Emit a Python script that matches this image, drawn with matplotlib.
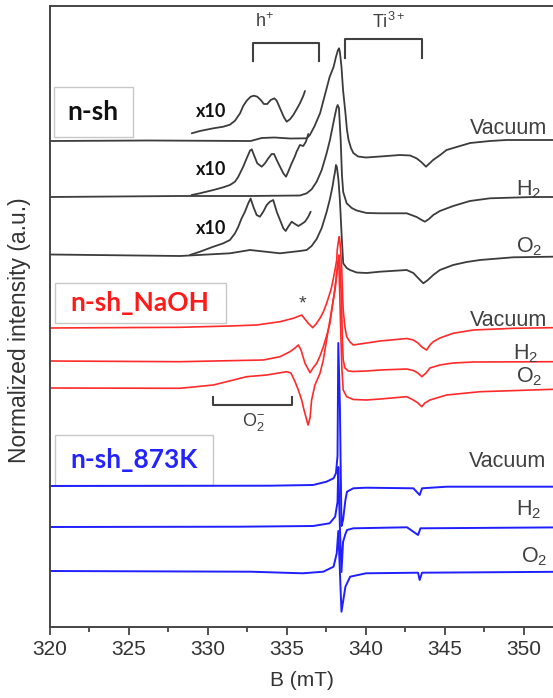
import matplotlib
matplotlib.use("Agg")
import matplotlib.pyplot as plt
from matplotlib.patches import Rectangle
from matplotlib.ticker import MultipleLocator

plt.rcParams['font.family'] = ['Liberation Sans', 'DejaVu Sans']
plt.rcParams['mathtext.fontset'] = 'custom'
plt.rcParams['mathtext.rm'] = 'Liberation Sans'
plt.rcParams['mathtext.it'] = 'Liberation Sans:italic'
plt.rcParams['mathtext.bf'] = 'Liberation Sans:bold'

# ---------------- data (B in mT, intensity in a.u. relative to each baseline) -------------
offsets = {'nsh_vac': 485.5, 'nsh_h2': 429.5, 'nsh_o2': 372.5,
           'naoh_vac': 298.5, 'naoh_h2': 265.5, 'naoh_o2': 238.5,
           'k873_vac': 140.5, 'k873_h2': 99.5, 'k873_o2': 55.5}

nsh_vac_B = [320, 326.3, 332.7, 333.4, 334.2, 335.2, 336.25, 336.45, 336.75, 337.1,
             337.3, 337.5, 337.7, 337.95, 338.1, 338.23, 338.3, 338.35, 338.45, 338.55,
             338.7, 338.8, 338.9, 339.05, 339.2, 339.5, 340.0, 340.9, 342.15, 342.8,
             343.2, 343.5, 343.8, 344.05, 344.25, 344.7, 345.1, 345.95, 346.6, 347.85,
             348.9, 353]
nsh_vac_I = [0, 0.5, 0, 3, 3.5, 2.5, 2.7, 6, 15, 28,
             40, 52, 64, 74, 84, 91, 92.7, 89, 74.3, 51,
             28, 11, 1, -7, -12, -15.5, -16.5, -15.5, -14, -14.5,
             -17.3, -21, -25.7, -22, -19, -14, -9, -5, -2, 0,
             1, 1]
nsh_vac_x10_B = [328.97, 329.49, 330.34, 330.97, 331.39, 331.71, 332.03, 332.23, 332.45, 332.70,
                 332.91, 333.12, 333.34, 333.54, 333.75, 333.97, 334.20, 334.35, 334.56, 334.81,
                 334.98, 335.19, 335.40, 335.61, 335.82, 336.03, 336.14]
nsh_vac_x10_I = [7.7, 10, 12.7, 14.3, 16.3, 20.3, 27.7, 35, 40.3, 44.3,
                 45.3, 44.3, 41, 37, 37, 41, 42.7, 40.3, 32.7, 23.7,
                 19.3, 21.7, 26, 31.7, 37.7, 45, 50]

nsh_h2_B = [320, 328.23, 332.66, 335.82, 336.25, 336.56, 336.88, 337.2, 337.51, 337.72,
            337.89, 338.04, 338.15, 338.21, 338.29, 338.40, 338.48, 338.56, 338.78, 339.1,
            339.41, 340.04, 340.89, 342.58, 343.21, 343.53, 343.73, 343.99, 344.26, 344.68,
            345.52, 346.58, 347.85, 350.57, 353]
nsh_h2_I = [0, 1, 1, 1.5, 3.7, 7.7, 15.3, 27, 43.7, 57,
            70.3, 82, 89.7, 92, 89, 57, 22, 5, -6.3, -11,
            -13.5, -16, -16.3, -16.3, -20, -23, -24.7, -22, -18, -14,
            -9, -4, -1.3, 0, 0]
nsh_h2_x10_B = [328.97, 329.49, 330.34, 330.97, 331.39, 331.71, 331.92, 332.23, 332.45, 332.66,
                332.77, 332.91, 333.12, 333.40, 333.61, 333.82, 334.03, 334.18, 334.35, 334.56,
                334.77, 334.94, 335.08, 335.30, 335.51, 335.61, 335.82, 336.03, 336.20, 336.35]
nsh_h2_x10_I = [2, 3.7, 7, 9.7, 12, 15.3, 20.3, 30.3, 38.7, 46.3,
                47.7, 42, 33.7, 30.3, 33.7, 38.7, 43, 43, 37, 30.3,
                23.7, 20.3, 25.3, 33.7, 41, 45.3, 52, 51, 55.3, 63]

nsh_o2_B = [320, 328.23, 331.39, 332.66, 334.56, 335.82, 336.25, 336.56, 336.88, 337.2,
            337.51, 337.72, 337.89, 337.97, 338.04, 338.10, 338.16, 338.26, 338.35, 338.46,
            338.56, 338.78, 338.99, 339.41, 340.04, 340.89, 342.58, 343.0, 343.3, 343.63,
            343.92, 344.26, 344.68, 345.52, 346.37, 347.22, 349.32, 351.84, 353]
nsh_o2_I = [-0.5, -2, 0.7, 4, 0.7, 3, 4, 8, 15, 26,
            42, 55, 68, 76, 82, 89, 87, 74, 54, 19,
            -9.3, -14, -16, -18.5, -19, -17.7, -16, -19, -24, -29.3,
            -26, -21, -16, -11, -8, -6, -3.3, -2.7, -2.7]
nsh_o2_x10_B = [328.86, 329.49, 330.34, 330.97, 331.39, 331.71, 331.92, 332.13, 332.34, 332.55,
                332.70, 332.87, 333.08, 333.29, 333.50, 333.72, 333.92, 334.13, 334.35, 334.56,
                334.77, 334.92, 335.08, 335.30, 335.51, 335.72, 335.93, 336.14, 336.35, 336.50]
nsh_o2_x10_I = [-1, 2.3, 7.3, 10.7, 14, 20.7, 27.3, 35.7, 42.3, 50.7,
                55.5, 47.3, 39, 37.3, 42.3, 49, 52.3, 54, 42.3, 34,
                25.7, 23, 27.3, 32.3, 30, 28, 30, 32.3, 37.3, 42.3]

naoh_vac_B = [320, 328.23, 331.39, 333.08, 334.56, 335.4, 335.7, 335.93, 336.08, 336.35,
              336.63, 336.84, 337.09, 337.3, 337.51, 337.72, 337.83, 337.93, 338.04, 338.15,
              338.18, 338.25, 338.31, 338.37, 338.46, 338.51, 338.56, 338.67, 338.78, 338.99,
              339.2, 339.62, 340.89, 342.58, 343.0, 343.29, 343.54, 343.84, 344.05, 344.26,
              344.68, 345.52, 346.79, 349.32, 351.84, 353]
naoh_vac_I = [0, 0.7, 2, 3, 6.3, 9.7, 11.5, 13, 10, 4.7,
              0.3, 4, 9.7, 16, 24.7, 35, 41.3, 49, 58, 68,
              78, 86, 91.3, 83, 61.3, 38, 18, 1, -8.7, -14,
              -17, -16, -13, -10.5, -12, -15, -19, -22, -17, -13.7,
              -10, -5.3, -2, -0.3, 0.3, 0.3]

naoh_h2_B = [320, 328.23, 333.5, 334.56, 335.19, 335.51, 335.72, 335.89, 336.14, 336.46,
             336.65, 336.88, 337.09, 337.3, 337.51, 337.72, 337.93, 338.04, 338.15, 338.23,
             338.29, 338.35, 338.45, 338.51, 338.56, 338.67, 338.88, 339.2, 340.04, 340.89,
             342.58, 343.0, 343.29, 343.54, 343.8, 344.05, 344.68, 345.52, 346.79, 351.84,
             353]
naoh_h2_I = [0, -0.7, 1, 4.3, 9.3, 13, 16, 11, -2.3, -11.7,
             -7, -2.3, 5, 14.3, 25, 37.7, 61, 71, 87.7, 99,
             106, 96, 61, 21, 1, -7, -10, -10.5, -10, -9,
             -8, -9.5, -12, -15.7, -12, -7, -4, -2, -1, -0.7,
             -0.7]

naoh_o2_B = [320, 328.23, 330.34, 332.45, 333.71, 334.98, 335.25, 335.51, 335.72, 335.93,
             336.08, 336.25, 336.33, 336.46, 336.56, 336.77, 337.09, 337.3, 337.51, 337.72,
             337.93, 338.04, 338.15, 338.23, 338.29, 338.35, 338.42, 338.48, 338.56, 338.78,
             339.2, 340.04, 340.89, 342.58, 343.0, 343.29, 343.53, 343.73, 344.05, 345.11,
             347.22, 351.84, 353]
naoh_o2_I = [0, -0.3, 3, 11.3, 13, 16.3, 15, 6.3, -2, -12,
             -22, -32, -37, -30, -12, 3, 14.7, 28, 48, 68,
             88, 100, 114, 126, 123, 88, 48, 18, -2, -8.7,
             -11.5, -12, -11, -8.7, -12, -15, -18.7, -15, -12, -7,
             -3.7, -1.3, -1.3]

k873_vac_B = [320, 333.9, 336.65, 337.5, 337.95, 338.1, 338.2, 338.25, 338.35, 338.45,
              338.55, 338.7, 338.8, 339.2, 340.0, 343.0, 343.4, 343.55, 345.1, 353]
k873_vac_I = [0, 0.3, 1, 4.3, 7.7, 12.7, 30, 143, 80, -40,
              -34, -14, -5.7, -2.3, -1.7, -2.3, -9, -2.3, -0.7, -0.7]

k873_h2_B = [320, 332.0, 336.65, 337.7, 338.05, 338.2, 338.25, 338.35, 338.45, 338.55,
             338.7, 338.8, 339.2, 342.6, 343.3, 343.45, 353]
k873_h2_I = [0, 0.3, 1, 3.7, 10.3, 25, 60, 0, -45, -15,
             -7, -3, -1.3, -0.3, -8, -1.3, -0.3]

k873_o2_B = [320, 332.7, 336.0, 337.3, 337.95, 338.15, 338.25, 338.35, 338.45, 338.7,
             339.0, 340.0, 343.3, 343.4, 343.55, 353]
k873_o2_I = [0, -0.7, -2.3, -0.7, 4.3, 17.7, 40, 0, -40.7, -15.7,
             -5.7, -2.3, -1.7, -9, -1.7, -0.7]

atmospheres = ['Vacuum', 'H$_2$', 'O$_2$']
ticks_B = [320, 325, 330, 335, 340, 345, 350]

# ---------------- figure ----------------
W, H = 553, 698
fig = plt.figure(figsize=(W / 100, H / 100), dpi=100)
ax = fig.add_axes([50 / W, 1 - 626.5 / H, 503 / W, 620.5 / H])
ax.set_xlim(320, 351.84)
ax.set_ylim(0, 620.5)

c_blk = '#3c3c3c'
c_red = '#ff2a2a'
c_blu = '#1f1fff'


def tr(B, I, key, color, lw=1.3):
    ax.plot(B, [v + offsets[key] for v in I], color=color, lw=lw,
            solid_joinstyle='round', solid_capstyle='round')


tr(nsh_vac_B, nsh_vac_I, 'nsh_vac', c_blk)
tr(nsh_vac_x10_B, nsh_vac_x10_I, 'nsh_vac', c_blk)
tr(nsh_h2_B, nsh_h2_I, 'nsh_h2', c_blk)
tr(nsh_h2_x10_B, nsh_h2_x10_I, 'nsh_h2', c_blk)
tr(nsh_o2_B, nsh_o2_I, 'nsh_o2', c_blk)
tr(nsh_o2_x10_B, nsh_o2_x10_I, 'nsh_o2', c_blk)
tr(naoh_vac_B, naoh_vac_I, 'naoh_vac', c_red, 1.2)
tr(naoh_h2_B, naoh_h2_I, 'naoh_h2', c_red, 1.2)
tr(naoh_o2_B, naoh_o2_I, 'naoh_o2', c_red, 1.2)
tr(k873_vac_B, k873_vac_I, 'k873_vac', c_blu, 1.4)
tr(k873_h2_B, k873_h2_I, 'k873_h2', c_blu, 1.4)
tr(k873_o2_B, k873_o2_I, 'k873_o2', c_blu, 1.4)

# axes styling
sp_c = '#454545'
for s in ['left', 'bottom', 'top']:
    ax.spines[s].set_color(sp_c)
    ax.spines[s].set_linewidth(1.4)
ax.spines['right'].set_visible(False)
ax.set_yticks([])
ax.set_xticks(ticks_B)
ax.xaxis.set_minor_locator(MultipleLocator(2.5))
ax.tick_params(axis='x', which='major', direction='out', length=6, width=1.3, color=sp_c,
               labelsize=15, labelcolor='#333333', pad=4)
ax.tick_params(axis='x', which='minor', direction='out', length=3.5, width=1.3, color=sp_c)
ax.set_xlabel('B (mT)', fontsize=15, color='#333333', labelpad=8)
fig.text(20 / W, 1 - 330 / H, 'Normalized intensity (a.u.)', rotation=90, ha='center', va='center',
         fontsize=16.5, color='#333333')

# right-side atmosphere labels
lab_c = '#404040'
lab_pos = [(351.5, 498.5), (351.1, 436.5), (351.15, 379.8),
           (351.5, 306.5), (350.9, 273.2), (351.15, 249.8),
           (351.4, 164.8), (351.1, 116.5), (351.5, 69.8)]
for i, (xb, yb) in enumerate(lab_pos):
    ax.text(xb, yb, atmospheres[i % 3], ha='right', va='center', fontsize=15.5, color=lab_c)

# sample boxes
box_font = ['Lato', 'DejaVu Sans']
boxes = [((320.25, 489.8), 5.02, 50, 'n-sh', '#111111', (322.72, 514.5)),
         ((320.3, 303.8), 10.84, 39.7, 'n-sh_NaOH', '#ff1a1a', (325.7, 323.5)),
         ((320.3, 141.5), 10.04, 50, 'n-sh_873K', '#2323ff', (325.3, 166.5))]
for (xy, w, h, txt, col, tp) in boxes:
    ax.add_patch(Rectangle(xy, w, h, fill=False, edgecolor='#c8c8c8', lw=1.0))
    ax.text(tp[0], tp[1], txt, ha='center', va='center', fontsize=19, fontweight='bold',
            color=col, family=box_font)

for yb in [514.8, 457.2, 398.2]:
    ax.text(330.23, yb, 'x10', ha='center', va='center', fontsize=13, fontweight='bold',
            color='#111111', family=box_font)

# brackets
br_c = '#404040'
ax.plot([332.85, 332.85, 337.05, 337.05], [565.5, 583.5, 583.5, 565.5], color=br_c, lw=1.5)
ax.plot([338.7, 338.7, 343.55, 343.55], [568.5, 587.5, 587.5, 568.5], color=br_c, lw=1.5)
ax.plot([330.3, 330.3, 335.3, 335.3], [229.8, 221.5, 221.5, 229.8], color=br_c, lw=1.5)
ax.text(333.6, 605, 'h$^{+}$', ha='center', va='center', fontsize=13, color=br_c)
ax.text(341.4, 605, 'Ti$^{3+}$', ha='center', va='center', fontsize=13, color=br_c)
ax.text(332.85, 204.5, 'O$_2^{-}$', ha='center', va='center', fontsize=13, color=br_c)
ax.text(336.0, 323, '*', ha='center', va='center', fontsize=14, color=br_c)

fig.savefig('out.png', dpi=100)
